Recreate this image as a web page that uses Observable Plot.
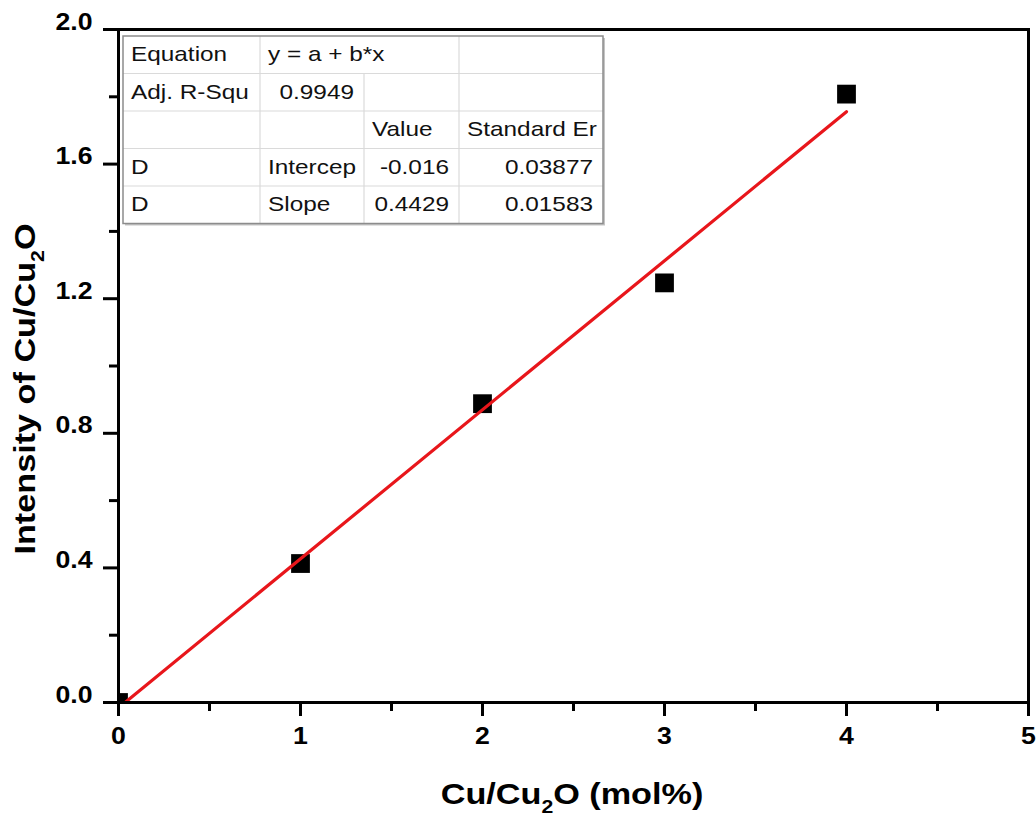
<!DOCTYPE html>
<html><head><meta charset="utf-8">
<script src="https://cdn.jsdelivr.net/npm/d3@7"></script>
<script src="https://cdn.jsdelivr.net/npm/@observablehq/plot@0.6"></script>
<style>body{margin:0;background:#fff} svg{display:block}</style>
</head><body><div id="chart"></div>
<script>
// ---- data ----
const molPercent = [0, 1, 2, 3, 4];
const intensity = [0.0, 0.413, 0.888, 1.247, 1.808];
const fitIntercept = -0.016;
const fitSlope = 0.4429;
const fitInterceptErr = "0.03877";
const fitSlopeErr = "0.01583";
const adjR2 = "0.9949";
const fitRange = [0, 4];
const xTicks = [0, 1, 2, 3, 4, 5];
const xMinorTicks = [0.5, 1.5, 2.5, 3.5, 4.5];
const yTicks = [0, 0.4, 0.8, 1.2, 1.6, 2.0];
const yMinorTicks = [0.2, 0.6, 1.0, 1.4, 1.8];
const tableRows = [
  ["Equation", "y = a + b*x", "", ""],
  ["Adj. R-Squ", adjR2, "", ""],
  ["", "", "Value", "Standard Er"],
  ["D", "Intercep", String(fitIntercept), fitInterceptErr],
  ["D", "Slope", String(fitSlope), fitSlopeErr]
];
const tableAlign = [
  ["start", "start", "start", "start"],
  ["start", "end", "end", "end"],
  ["start", "start", "start", "start"],
  ["start", "start", "end", "end"],
  ["start", "start", "end", "end"]
];

// ---- chart ----
const FONT = "'Liberation Sans', Arial, Helvetica, sans-serif";
const points = molPercent.map((x, i) => ({x, y: intensity[i]}));
const fit = fitRange.map(x => ({x, y: fitIntercept + fitSlope * x}));

const chart = Plot.plot({
  width: 1036, height: 818,
  marginLeft: 118, marginRight: 8, marginTop: 29, marginBottom: 116,
  x: {domain: [0, 5]},
  y: {domain: [0, 2]},
  style: {fontFamily: FONT, background: "white", color: "black"},
  marks: [
    Plot.dot(points, {x: "x", y: "y", symbol: "square", r: 10.6, fill: "black", stroke: "none", clip: true}),
    Plot.line(fit, {x: "x", y: "y", stroke: "#e8161b", strokeWidth: 3.2, clip: true}),
    Plot.frame({stroke: "black", strokeWidth: 3}),
    Plot.axisX({ticks: xTicks, tickSize: 14, tickPadding: 27, strokeWidth: 3, fontSize: 23, fontWeight: "bold", label: null, tickFormat: d => String(d)}),
    Plot.axisX({ticks: xMinorTicks, tickSize: 9, strokeWidth: 3, text: null, label: null}),
    Plot.axisY({ticks: yTicks, tickSize: 15, tickPadding: 11, strokeWidth: 3, fontSize: 23, fontWeight: "bold", label: null, tickFormat: d3.format(".1f")}),
    Plot.axisY({ticks: yMinorTicks, tickSize: 9, strokeWidth: 3, text: null, label: null})
  ]
});
document.getElementById("chart").appendChild(chart);
const svg = d3.select(chart);
const SX = 1.16;

// widen tick label glyphs like the original
svg.selectAll("text").each(function() {
  const t = d3.select(this);
  const x = +t.attr("x") || 0, y = +t.attr("y") || 0;
  const tr = t.attr("transform") || "";
  t.attr("x", null).attr("y", null)
   .attr("transform", `${tr} translate(${x},${y}) scale(${SX},1)`);
});

// axis titles
function title(xp, yp, rot, pre, sub, post) {
  const t = svg.append("text")
    .attr("transform", `translate(${xp},${yp}) rotate(${rot}) scale(1.18,1)`)
    .attr("text-anchor", "middle")
    .attr("font-family", FONT).attr("font-weight", "bold")
    .attr("font-size", 29).attr("fill", "black");
  t.append("tspan").text(pre);
  t.append("tspan").attr("font-size", 18).attr("dy", 9).text(sub);
  t.append("tspan").attr("dy", -9).text(post);
}
title(572, 804, 0, "Cu/Cu", "2", "O (mol%)");
title(35, 389, -90, "Intensity of Cu/Cu", "2", "O");

// fit results table
const colX = [123, 260, 364, 459, 603];
const rowY = [36, 73.5, 111, 148.5, 186, 223.5];
const g = svg.append("g").attr("font-family", FONT).attr("font-size", 21).attr("fill", "#111");
g.append("rect").attr("x", colX[0] + 2).attr("y", rowY[0] + 2)
  .attr("width", colX[4] - colX[0]).attr("height", rowY[5] - rowY[0])
  .attr("fill", "#c4c4c4");
g.append("rect").attr("x", colX[0]).attr("y", rowY[0])
  .attr("width", colX[4] - colX[0]).attr("height", rowY[5] - rowY[0])
  .attr("fill", "white");
for (let r = 1; r < 5; r++) {
  g.append("line").attr("x1", colX[0]).attr("x2", colX[4]).attr("y1", rowY[r]).attr("y2", rowY[r])
    .attr("stroke", "#dadada").attr("stroke-width", 1.2);
}
for (let c = 1; c < 4; c++) {
  const top = c === 2 ? rowY[1] : rowY[0];
  g.append("line").attr("x1", colX[c]).attr("x2", colX[c]).attr("y1", top).attr("y2", rowY[5])
    .attr("stroke", "#dadada").attr("stroke-width", 1.2);
}
g.append("rect").attr("x", colX[0]).attr("y", rowY[0])
  .attr("width", colX[4] - colX[0]).attr("height", rowY[5] - rowY[0])
  .attr("fill", "none").attr("stroke", "#8c8c8c").attr("stroke-width", 1.5);
tableRows.forEach((row, r) => {
  row.forEach((txt, c) => {
    if (!txt) return;
    const a = tableAlign[r][c];
    const xp = a === "end" ? colX[c + 1] - 10 : colX[c] + 8;
    g.append("text")
      .attr("transform", `translate(${xp},${rowY[r] + 25}) scale(1.16,1)`)
      .attr("text-anchor", a)
      .text(txt);
  });
});
</script>
</body></html>
